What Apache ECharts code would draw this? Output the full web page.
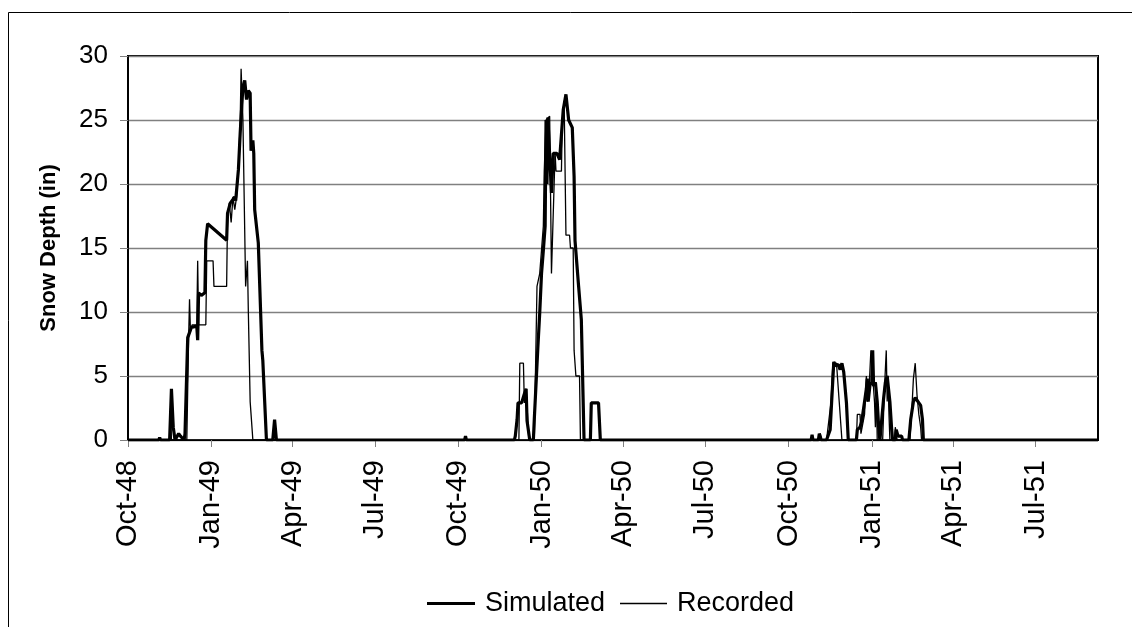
<!DOCTYPE html>
<html><head><meta charset="utf-8">
<script src="https://cdn.jsdelivr.net/npm/echarts@6/dist/echarts.min.js"></script>
<style>html,body{margin:0;padding:0;background:#fff}#c{width:1132px;height:627px}</style>
</head><body><div id="c"></div>
<script>
const seriesNames = ['Simulated', 'Recorded'];
const axisTitle = 'Snow Depth (in)';
const tickDates = ['1948-10-01','1949-01-01','1949-04-01','1949-07-01','1949-10-01','1950-01-01','1950-04-01','1950-07-01','1950-10-01','1951-01-01','1951-04-01','1951-07-01'];
const tickLabels = ['Oct-48','Jan-49','Apr-49','Jul-49','Oct-49','Jan-50','Apr-50','Jul-50','Oct-50','Jan-51','Apr-51','Jul-51'];
const xStart = '1948-10-01';
const xEnd = '1951-09-08';

const simulated = [
['1948-10-01',0],
['1948-11-04',0],['1948-11-05',0.2],['1948-11-06',0],
['1948-11-16',0],['1948-11-18',4],['1948-11-20',1],['1948-11-22',0],['1948-11-26',0.5],['1948-11-28',0.3],['1948-12-02',0],
['1948-12-03',0.5],['1948-12-06',8.0],['1948-12-10',8.8],['1948-12-16',8.9],['1948-12-17',7.8],['1948-12-18',11.5],['1948-12-21',11.3],['1948-12-25',11.5],['1948-12-26',15.6],['1948-12-28',16.9],['1948-12-30',16.9],['1949-01-18',15.6],['1949-01-19',17.7],['1949-01-22',18.5],['1949-01-27',19],['1949-01-28',18.7],['1949-01-31',21.1],['1949-02-02',24],['1949-02-05',27.6],['1949-02-07',28.1],['1949-02-09',26.6],['1949-02-11',27.3],['1949-02-13',27.1],['1949-02-14',22.6],['1949-02-16',23.4],['1949-02-17',22.4],['1949-02-18',18],['1949-02-22',15.4],['1949-02-26',7.0],['1949-02-27',6.2],['1949-03-03',0],['1949-03-10',0],['1949-03-12',1.6],['1949-03-13',1.6],['1949-03-14',0],
['1949-10-08',0],['1949-10-09',0.3],['1949-10-10',0],
['1949-11-02',0],['1949-11-03',0.1],['1949-11-04',0],
['1949-12-02',0],['1949-12-03',0.3],['1949-12-05',1.6],['1949-12-06',2.9],['1949-12-10',2.9],['1949-12-13',3.6],['1949-12-15',4.0],['1949-12-16',1.5],['1949-12-19',0],['1949-12-23',0],['1949-12-24',1.6],['1949-12-28',7.3],['1949-12-30',9.9],['1950-01-01',13],['1950-01-03',14.8],['1950-01-05',16.7],['1950-01-06',25],['1950-01-07',20],['1950-01-08',25.2],['1950-01-10',25.2],['1950-01-12',19.3],['1950-01-14',22.4],['1950-01-18',22.4],['1950-01-21',21.9],['1950-01-25',25.8],['1950-01-28',27],['1950-01-31',25],['1950-02-04',24.4],['1950-02-06',20.6],['1950-02-07',15.6],['1950-02-11',12],['1950-02-14',9.4],['1950-02-17',0],['1950-02-24',0],['1950-02-25',2.9],['1950-03-05',2.9],['1950-03-07',0],['1950-03-26',0],['1950-03-27',0.1],['1950-03-28',0],
['1950-10-26',0],['1950-10-27',0.4],['1950-10-28',0],['1950-11-03',0],['1950-11-04',0.5],['1950-11-05',0.3],['1950-11-06',0],
['1950-11-12',0],['1950-11-16',0.8],['1950-11-20',6.1],['1950-11-22',5.8],['1950-11-25',5.9],['1950-11-27',5.5],['1950-11-29',6],['1950-12-01',5.3],['1950-12-04',2.9],['1950-12-06',0],
['1950-12-15',0],['1950-12-16',0.8],['1950-12-19',1.0],['1950-12-21',1.5],['1950-12-24',3],['1950-12-26',4.0],['1950-12-27',4.8],['1950-12-28',3.0],['1950-12-30',4.3],['1951-01-01',4.5],['1951-01-02',7.0],['1951-01-03',4.2],['1951-01-05',4.5],['1951-01-07',3.0],['1951-01-09',0.5],['1951-01-10',0],
['1951-01-12',0],['1951-01-14',3.2],['1951-01-16',4.5],['1951-01-18',5.0],['1951-01-20',5.0],['1951-01-21',3],['1951-01-23',0.8],['1951-01-24',0],['1951-01-27',0],['1951-01-28',0.8],['1951-01-30',0.3],['1951-02-03',0.3],['1951-02-04',0],
['1951-02-11',0],['1951-02-13',1.6],['1951-02-16',3.0],['1951-02-18',3.3],['1951-02-20',3.3],['1951-02-24',2.7],['1951-02-26',1.6],['1951-02-27',0],
['1951-09-08',0]
];

const recorded = [
['1948-10-01',0],
['1948-11-16',0],['1948-11-17',2.5],['1948-11-18',0],
['1948-12-05',0],['1948-12-07',8],['1948-12-08',11],['1948-12-09',8.5],['1948-12-11',9],['1948-12-16',9],['1948-12-17',14],['1948-12-18',9],['1948-12-26',9],['1948-12-27',14],['1949-01-03',14],['1949-01-04',12],['1949-01-18',12],['1949-01-19',17.5],['1949-01-21',18.5],['1949-01-23',17],['1949-01-25',19],['1949-01-27',18],['1949-01-29',19],['1949-01-31',21],['1949-02-02',25],['1949-02-03',29],['1949-02-05',25],['1949-02-08',12],['1949-02-10',14],['1949-02-11',10],['1949-02-13',3],['1949-02-14',2],['1949-02-16',0],
['1949-12-07',0],['1949-12-08',6],['1949-12-12',6],['1949-12-13',2.9],['1949-12-15',4],['1949-12-18',0],
['1949-12-24',0],['1949-12-27',12],['1949-12-30',13],['1950-01-03',16.7],['1950-01-04',21],['1950-01-06',25],['1950-01-10',25.3],['1950-01-12',13],['1950-01-16',22.5],['1950-01-17',21],['1950-01-23',21],['1950-01-24',25],['1950-01-26',26.5],['1950-01-28',16],['1950-02-01',16],['1950-02-02',15],['1950-02-05',15],['1950-02-06',7],['1950-02-08',5],['1950-02-12',5],['1950-02-13',0],
['1950-11-12',0],['1950-11-17',3],['1950-11-19',6],['1950-11-23',6],['1950-11-26',3],['1950-11-29',0],
['1950-12-15',0],['1950-12-16',2],['1950-12-19',2],['1950-12-20',0.5],['1950-12-24',2],['1950-12-26',5],['1950-12-27',3],['1950-12-29',4],['1950-12-31',7],['1951-01-01',6],['1951-01-03',6],['1951-01-04',3],['1951-01-05',1],['1951-01-06',4.5],['1951-01-07',0],
['1951-01-13',0],['1951-01-15',4],['1951-01-17',7],['1951-01-18',3],['1951-01-19',5],['1951-01-20',2],['1951-01-21',0],
['1951-01-26',0],['1951-01-27',1],['1951-01-28',0.5],['1951-01-29',0],
['1951-02-12',0],['1951-02-14',2],['1951-02-16',4.8],['1951-02-18',6],['1951-02-20',3.5],['1951-02-22',2],['1951-02-24',1],['1951-02-25',0],
['1951-09-08',0]
];

const FONT = '"Liberation Sans", Arial, sans-serif';
const ms = s => Date.parse(s);
const tickMs = tickDates.map(ms);
const toXY = arr => arr.map(p => [ms(p[0]), p[1]]);
const legendText = {fontSize: 27, color: '#000', fontFamily: FONT, padding: [0, 0, 0, 5]};

const chart = echarts.init(document.getElementById('c'), null, {renderer: 'canvas'});
chart.setOption({
  animation: false,
  backgroundColor: '#fff',
  graphic: [{
    type: 'polyline', silent: true,
    shape: {points: [[8.5, 640], [8.5, 12.5], [1140, 12.5]]},
    style: {stroke: '#000', lineWidth: 1, fill: null}
  }],
  grid: {left: 128, right: 34, top: 56, bottom: 187, show: true, borderColor: '#000', borderWidth: 2, backgroundColor: 'transparent'},
  legend: [
    {left: 427, top: 590, padding: 0, icon: 'rect', itemWidth: 48, itemHeight: 3.2,
     itemStyle: {color: '#000', borderWidth: 0}, textStyle: legendText, data: [seriesNames[0]]},
    {left: 620, top: 590, padding: 0, icon: 'rect', itemWidth: 47, itemHeight: 1.3,
     itemStyle: {color: '#000', borderWidth: 0}, textStyle: legendText, data: [seriesNames[1]]}
  ],
  xAxis: {
    type: 'value', min: ms(xStart), max: ms(xEnd),
    axisLine: {show: true, lineStyle: {color: '#000', width: 1}},
    axisTick: {show: true, customValues: tickMs, length: 7, lineStyle: {color: '#808080', width: 1}},
    axisLabel: {
      customValues: tickMs, rotate: 90, margin: 20, fontSize: 29, color: '#000', fontFamily: FONT,
      formatter: v => { const i = tickMs.indexOf(v); return i >= 0 ? tickLabels[i] : ''; }
    },
    splitLine: {show: false}
  },
  yAxis: {
    type: 'value', min: 0, max: 30, interval: 5,
    name: axisTitle, nameLocation: 'middle', nameRotate: 90, nameGap: 68,
    nameTextStyle: {fontSize: 22, fontWeight: 'bold', color: '#000', fontFamily: FONT},
    axisLine: {show: true, lineStyle: {color: '#000', width: 1.5}},
    axisTick: {show: true, length: 8, lineStyle: {color: '#808080', width: 1}},
    axisLabel: {margin: 20, fontSize: 26, color: '#000', fontFamily: FONT},
    splitLine: {show: true, lineStyle: {color: '#808080', width: 1.3}}
  },
  series: [
    {name: seriesNames[0], type: 'line', data: toXY(simulated), showSymbol: false, symbol: 'none',
     lineStyle: {color: '#000', width: 3.2}, itemStyle: {color: '#000'}, z: 2},
    {name: seriesNames[1], type: 'line', data: toXY(recorded), showSymbol: false, symbol: 'none',
     lineStyle: {color: '#000', width: 1.3}, itemStyle: {color: '#000'}, z: 3}
  ]
});
</script>
</body></html>
